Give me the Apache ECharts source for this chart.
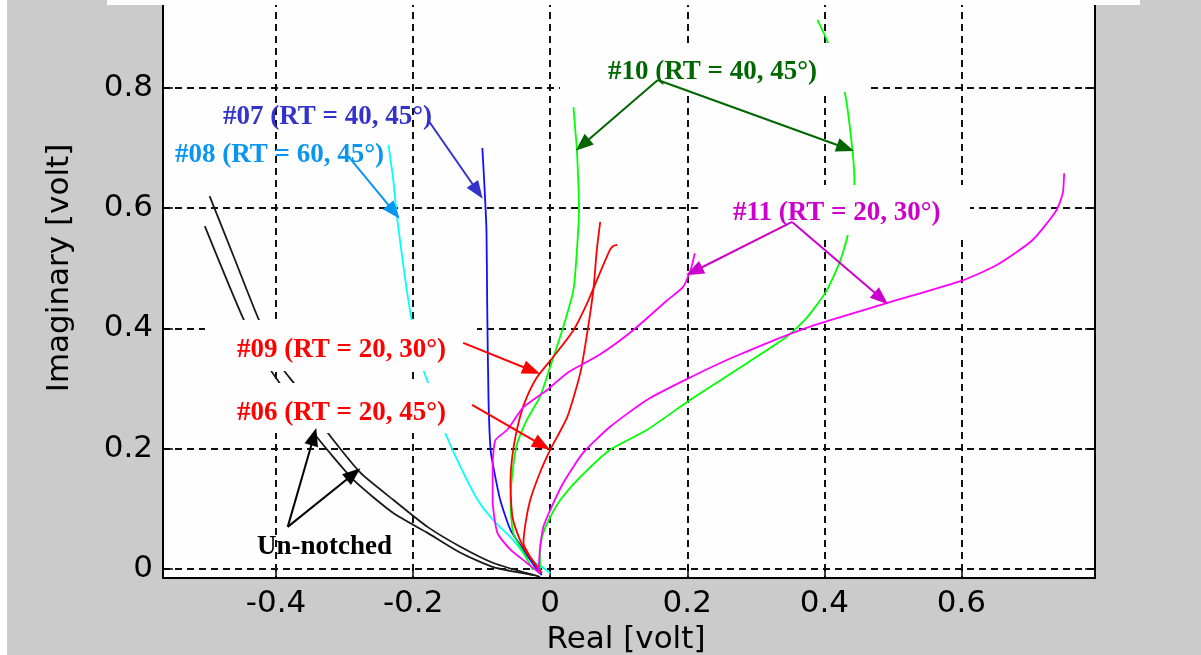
<!DOCTYPE html>
<html>
<head>
<meta charset="utf-8">
<script src="https://cdn.jsdelivr.net/npm/echarts@6/dist/echarts.min.js"></script>
<style>
  html, body { margin: 0; padding: 0; background: #cbcbcb; }
  #chart { width: 1201px; height: 655px; }
</style>
</head>
<body>
<div id="chart"></div>
<script>
// traces, [real, imaginary] in volt
const unnotchedA = [[-0.497,0.620],[-0.461,0.517],[-0.425,0.414],[-0.389,0.331],[-0.374,0.309],[-0.331,0.236],[-0.277,0.160],[-0.229,0.115],[-0.179,0.070],[-0.131,0.037],[-0.083,0.010],[-0.034,-0.007],[-0.015,-0.013]];
const unnotchedB = [[-0.504,0.570],[-0.447,0.414],[-0.408,0.331],[-0.396,0.311],[-0.345,0.226],[-0.287,0.148],[-0.229,0.093],[-0.179,0.060],[-0.131,0.027],[-0.083,0.003],[-0.025,-0.010]];
const notch08 = [[-0.236,0.705],[-0.229,0.647],[-0.223,0.580],[-0.204,0.426],[-0.185,0.331],[-0.178,0.309],[-0.153,0.226],[-0.131,0.170],[-0.106,0.115],[-0.083,0.081],[-0.054,0.048],[-0.034,0.020],[-0.010,0.002],[0.000,-0.007]];
const notch07 = [[-0.099,0.700],[-0.096,0.638],[-0.093,0.564],[-0.092,0.447],[-0.090,0.281],[-0.087,0.198],[-0.083,0.170],[-0.073,0.115],[-0.058,0.065],[-0.039,0.032],[-0.019,-0.002],[-0.012,-0.010]];
const notch10a = [[-0.025,-0.002],[-0.039,0.027],[-0.054,0.060],[-0.058,0.115],[-0.054,0.170],[-0.048,0.209],[-0.034,0.248],[-0.015,0.286],[0.000,0.336],[0.019,0.402],[0.034,0.464],[0.039,0.530],[0.042,0.597],[0.039,0.697],[0.036,0.738],[0.034,0.768]];
const notch10b = [[-0.015,-0.007],[-0.015,0.032],[-0.010,0.060],[0.000,0.086],[0.015,0.115],[0.044,0.153],[0.087,0.198],[0.141,0.231],[0.204,0.281],[0.287,0.342],[0.345,0.386],[0.374,0.417],[0.403,0.462],[0.422,0.509],[0.434,0.554],[0.444,0.642],[0.441,0.697],[0.430,0.791],[0.405,0.876],[0.390,0.913]];
const notch06 = [[-0.015,-0.002],[-0.029,0.020],[-0.039,0.043],[-0.036,0.076],[-0.029,0.115],[-0.015,0.160],[0.000,0.198],[0.025,0.253],[0.044,0.326],[0.054,0.392],[0.063,0.464],[0.068,0.530],[0.073,0.577]];
const notch09 = [[-0.012,-0.007],[-0.019,0.003],[-0.034,0.027],[-0.044,0.048],[-0.055,0.086],[-0.058,0.143],[-0.054,0.198],[-0.044,0.253],[-0.034,0.286],[-0.019,0.319],[0.004,0.352],[0.034,0.397],[0.054,0.442],[0.068,0.480],[0.087,0.530],[0.092,0.537],[0.098,0.539]];
const notch11a = [[-0.015,-0.007],[-0.034,0.010],[-0.058,0.032],[-0.077,0.060],[-0.084,0.115],[-0.084,0.170],[-0.080,0.214],[-0.063,0.231],[-0.039,0.269],[-0.004,0.298],[0.025,0.326],[0.073,0.357],[0.121,0.397],[0.170,0.446],[0.194,0.469],[0.204,0.494],[0.208,0.510],[0.211,0.525]];
const notch11b = [[-0.017,-0.007],[-0.015,0.032],[-0.010,0.070],[0.000,0.098],[0.019,0.143],[0.048,0.193],[0.087,0.236],[0.141,0.281],[0.200,0.316],[0.267,0.352],[0.374,0.401],[0.491,0.442],[0.602,0.480],[0.651,0.505],[0.704,0.547],[0.739,0.597],[0.748,0.625],[0.750,0.658]];

// annotation arrows: [from, to] in data units
const arrows = [
  { from: [-0.178, 0.746], to: [-0.106, 0.628], color: '#3333cc' },
  { from: [-0.294, 0.685], to: [-0.228, 0.594], color: '#0a96f0' },
  { from: [0.157, 0.813], to: [0.047, 0.705], color: '#006600' },
  { from: [0.157, 0.813], to: [0.431, 0.700], color: '#006600' },
  { from: [0.353, 0.577], to: [0.210, 0.495], color: '#cc00cc' },
  { from: [0.353, 0.577], to: [0.483, 0.450], color: '#cc00cc' },
  { from: [-0.127, 0.376], to: [-0.027, 0.330], color: '#ff0000' },
  { from: [-0.114, 0.273], to: [-0.012, 0.206], color: '#ff0000' },
  { from: [-0.383, 0.070], to: [-0.345, 0.220], color: '#000000' },
  { from: [-0.383, 0.070], to: [-0.287, 0.158], color: '#000000' }
];

const traces = [
  { name: 'Un-notched a', data: unnotchedA, color: '#1a1a1a' },
  { name: 'Un-notched b', data: unnotchedB, color: '#1a1a1a' },
  { name: '#08', data: notch08, color: '#00ffff' },
  { name: '#07', data: notch07, color: '#1010ff' },
  { name: '#10 a', data: notch10a, color: '#00ff00' },
  { name: '#10 b', data: notch10b, color: '#00ff00' },
  { name: '#06', data: notch06, color: '#ff0000' },
  { name: '#09', data: notch09, color: '#ff0000' },
  { name: '#11 a', data: notch11a, color: '#ff00ff' },
  { name: '#11 b', data: notch11b, color: '#ff00ff' }
];

const tickFont = { fontFamily: 'DejaVu Sans', fontSize: 31, color: '#000' };
const gridLine = { show: true, lineStyle: { color: '#111', width: 2, type: [7, 5] } };

const series = traces.map(t => ({
  name: t.name,
  type: 'line',
  data: t.data,
  showSymbol: false,
  smooth: 0.2,
  silent: true,
  z: 3,
  lineStyle: { color: t.color, width: 1.8 }
}));

// arrows sit on their own layer so the label boxes don't hide them
series.push({
  type: 'line',
  data: [],
  zlevel: 1,
  markLine: {
    silent: true,
    zlevel: 1,
    z: 60,
    symbol: ['none', 'triangle'],
    symbolSize: [14, 18],
    label: { show: false },
    data: arrows.map(a => [
      { coord: a.from, lineStyle: { color: a.color, width: 2, type: 'solid' }, itemStyle: { color: a.color } },
      { coord: a.to }
    ])
  }
});

function label(text, x, y, color) {
  return {
    type: 'text', x: x, y: y, zlevel: 1, z: 55,
    style: { text: text, fill: color, fontFamily: 'Liberation Serif', fontWeight: 'bold', fontSize: 27, verticalAlign: 'middle' }
  };
}
function box(x, y, w, h) {
  return { type: 'rect', z: 50, shape: { x: x, y: y, width: w, height: h }, style: { fill: '#fefefe' } };
}

const chart = echarts.init(document.getElementById('chart'));
chart.setOption({
  animation: false,
  backgroundColor: '#cbcbcb',
  grid: { left: 163, right: 106, top: 0, bottom: 77, show: true, backgroundColor: '#fefefe', borderColor: '#000', borderWidth: 2 },
  xAxis: {
    type: 'value', min: -0.565, max: 0.795, splitNumber: 7, minInterval: 0.2, maxInterval: 0.2,
    axisLine: { onZero: false, lineStyle: { color: '#000', width: 2 } },
    axisTick: { inside: true, length: 9, lineStyle: { color: '#000', width: 1.5 } },
    axisLabel: Object.assign({ margin: 10, showMinLabel: false, showMaxLabel: false }, tickFont),
    splitLine: gridLine
  },
  yAxis: [{
    type: 'value', min: -0.015, max: 0.946, splitNumber: 5, minInterval: 0.2, maxInterval: 0.2,
    axisLine: { onZero: false, lineStyle: { color: '#000', width: 2 } },
    axisTick: { inside: true, length: 10, lineStyle: { color: '#000', width: 1.5 } },
    axisLabel: Object.assign({ margin: 10, showMinLabel: false, showMaxLabel: false }, tickFont),
    splitLine: gridLine
  }, {
    type: 'value', min: -0.015, max: 0.946, splitNumber: 5, minInterval: 0.2, maxInterval: 0.2, position: 'right',
    axisLine: { show: true, onZero: false, lineStyle: { color: '#000', width: 2 } },
    axisTick: { show: true, inside: true, length: 10, lineStyle: { color: '#000', width: 1.5 } },
    axisLabel: { show: false },
    splitLine: { show: false }
  }],
  series: series,
  graphic: [
    { type: 'rect', z: 70, shape: { x: 0, y: 0, width: 7, height: 655 }, style: { fill: '#ffffff' } },
    { type: 'rect', z: 70, shape: { x: 107, y: 0, width: 1033, height: 5 }, style: { fill: '#ffffff' } },
    box(560, 43, 307, 49),
    box(702, 185, 268, 50),
    box(205, 320, 272, 51),
    box(207, 383, 271, 50),
    label('#07 (RT = 40, 45°)', 223, 117, '#3333cc'),
    label('#08 (RT = 60, 45°)', 175, 155, '#0a96f0'),
    label('#10 (RT = 40, 45°)', 608, 72, '#006600'),
    label('#11 (RT = 20, 30°)', 733, 213, '#cc00cc'),
    label('#09 (RT = 20, 30°)', 237, 350, '#ff0000'),
    label('#06 (RT = 20, 45°)', 237, 413, '#ff0000'),
    label('Un-notched', 257, 547, '#000000'),
    {
      type: 'text', x: 60, y: 268, rotation: Math.PI / 2, z: 55,
      style: { text: 'Imaginary [volt]', fill: '#000', fontFamily: 'DejaVu Sans', fontSize: 31, align: 'center', verticalAlign: 'middle' }
    },
    {
      type: 'text', x: 626, y: 640, z: 55,
      style: { text: 'Real [volt]', fill: '#000', fontFamily: 'DejaVu Sans', fontSize: 31, align: 'center', verticalAlign: 'middle' }
    }
  ]
});
</script>
</body>
</html>
